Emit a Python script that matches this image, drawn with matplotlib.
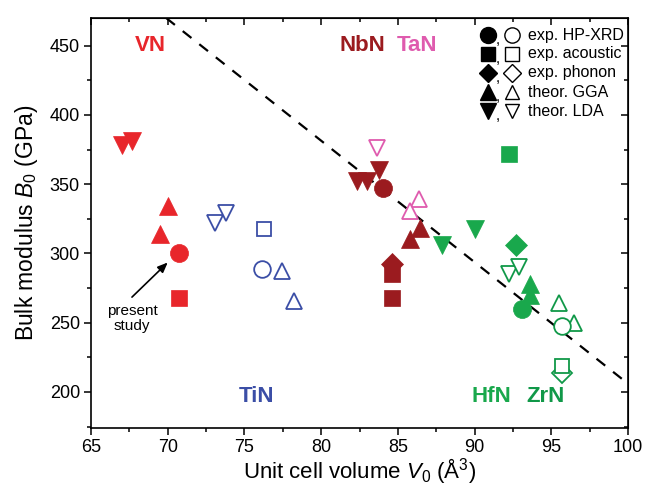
import matplotlib
matplotlib.use("Agg")
import matplotlib.pyplot as plt
from matplotlib.ticker import MultipleLocator

plt.rcParams['font.family'] = ['Liberation Sans', 'DejaVu Sans']
plt.rcParams['mathtext.fontset'] = 'custom'
plt.rcParams['mathtext.rm'] = 'Liberation Sans'
plt.rcParams['mathtext.it'] = 'Liberation Sans:italic'

# ---------------- data ----------------
vn_V = [67.02, 67.67, 70.02, 69.5, 70.74, 70.74]
vn_B = [378, 381.5, 334, 314, 300.5, 268]
vn_m = ['lda', 'lda', 'gga', 'gga', 'xrd', 'ac']

tin_V = [73.08, 73.8, 76.28, 76.15, 77.45, 78.23]
tin_B = [322, 329, 318, 289, 287.5, 266]
tin_m = ['lda', 'lda', 'ac', 'xrd', 'gga', 'gga']

nbn_V = [82.34, 83.0, 83.77, 84.04, 86.45, 85.8, 84.62, 84.62, 84.62]
nbn_B = [352.5, 352.5, 360, 347.5, 318.6, 310.7, 268, 285, 292.6]
nbn_m = ['lda', 'lda', 'lda', 'xrd', 'gga', 'gga', 'ac', 'ac', 'ph']

tan_V = [83.64, 86.38, 85.8]
tan_B = [376, 339.5, 331]
tan_m = ['lda', 'gga', 'gga']

hfn_V = [92.25, 90.03, 87.88, 92.7, 93.6, 93.6, 93.1]
hfn_B = [372, 318, 306, 306, 278, 270, 260]
hfn_m = ['ac', 'lda', 'lda', 'ph', 'gga', 'gga', 'xrd']

zrn_V = [92.25, 92.9, 95.5, 96.5, 95.7, 95.7, 95.7]
zrn_B = [285, 290, 264, 250, 248, 214, 219]
zrn_m = ['lda', 'lda', 'gga', 'gga', 'xrd', 'ph', 'ac']

trend_V = [69.9, 100.0]
trend_B = [470, 206]

legend_keys = ['xrd', 'ac', 'ph', 'gga', 'lda']
legend_labels = ['exp. HP-XRD', 'exp. acoustic', 'exp. phonon', 'theor. GGA', 'theor. LDA']

# ---------------- style ----------------
markers = {'xrd': 'o', 'ac': 's', 'ph': 'D', 'gga': '^', 'lda': 'v'}
msizes = {'xrd': 13, 'ac': 11.5, 'ph': 11, 'gga': 12.5, 'lda': 12.5}

c_vn = '#e8262b'
c_tin = '#3b4ea6'
c_nbn = '#9b1b1f'
c_tan = '#df5bae'
c_hfn = '#19a84c'
c_zrn = '#109848'

fig = plt.figure(figsize=(6.46, 4.86), dpi=100)
ax = fig.add_axes([91/646, 1 - 428/486, 537/646, 410/486])

ax.plot(trend_V, trend_B, color='black', lw=1.6, dashes=(5, 4.5), zorder=1)


def draw(Vs, Bs, ms_, color, filled, z=3):
    for v, b, m in zip(Vs, Bs, ms_):
        if filled:
            ax.plot([v], [b], marker=markers[m], ms=msizes[m], mfc=color,
                    mec=color, mew=0.5, ls='none', zorder=z)
        else:
            ax.plot([v], [b], marker=markers[m], ms=msizes[m] - 1, mfc='white',
                    mec=color, mew=1.3, ls='none', zorder=z)


draw(vn_V, vn_B, vn_m, c_vn, True)
draw(tin_V, tin_B, tin_m, c_tin, False)
draw(nbn_V, nbn_B, nbn_m, c_nbn, True)
draw(tan_V, tan_B, tan_m, c_tan, False)
draw(hfn_V, hfn_B, hfn_m, c_hfn, True)
draw(zrn_V, zrn_B, zrn_m, c_zrn, False)

ax.set_xlim(65, 100)
ax.set_ylim(174, 470)
ax.xaxis.set_major_locator(MultipleLocator(5))
ax.xaxis.set_minor_locator(MultipleLocator(2.5))
ax.yaxis.set_major_locator(MultipleLocator(50))
ax.yaxis.set_minor_locator(MultipleLocator(25))
ax.tick_params(axis='both', which='major', direction='out', length=5, width=1.1,
               labelsize=13, pad=3)
ax.tick_params(axis='both', which='minor', direction='out', length=3, width=1.1)
ax.tick_params(axis='both', which='both', top=False, right=False)
ax.set_yticks([200, 250, 300, 350, 400, 450])
for s in ax.spines.values():
    s.set_linewidth(1.2)

# inward ticks on top and right
axt = ax.secondary_xaxis('top')
axt.xaxis.set_major_locator(MultipleLocator(5))
axt.xaxis.set_minor_locator(MultipleLocator(2.5))
axt.tick_params(which='major', direction='in', length=5, width=1.1, labeltop=False)
axt.tick_params(which='minor', direction='in', length=3, width=1.1)
axr = ax.secondary_yaxis('right')
axr.yaxis.set_major_locator(MultipleLocator(50))
axr.yaxis.set_minor_locator(MultipleLocator(25))
axr.tick_params(which='major', direction='in', length=5, width=1.1, labelright=False)
axr.tick_params(which='minor', direction='in', length=3, width=1.1)

ax.set_xlabel(r'Unit cell volume $V_0$ (Å$^3$)', fontsize=16, labelpad=0)
ax.set_ylabel(r'Bulk modulus $B_0$ (GPa)', fontsize=16.5, labelpad=7)

# compound labels
lab_kw = dict(fontsize=16, fontweight='bold', ha='center', va='center')
ax.text(68.9, 450.5, 'VN', color=c_vn, **lab_kw)
ax.text(82.67, 450.5, 'NbN', color=c_nbn, **lab_kw)
ax.text(86.25, 450.5, 'TaN', color=c_tan, **lab_kw)
ax.text(75.8, 196.5, 'TiN', color=c_tin, **lab_kw)
ax.text(91.1, 196.5, 'HfN', color=c_hfn, **lab_kw)
ax.text(94.65, 196.5, 'ZrN', color=c_zrn, **lab_kw)

# annotation
ax.annotate('', xy=(70.0, 293.5), xytext=(67.67, 268.5),
            arrowprops=dict(arrowstyle='-|>,head_length=0.6,head_width=0.25',
                            color='black', lw=1.2, shrinkA=0, shrinkB=0))
ax.text(67.67, 253, 'present\nstudy', fontsize=11, ha='center', va='center',
        linespacing=1.15)

# legend (manual)
row_y = [0.958, 0.913, 0.866, 0.819, 0.773]
for yy, key, lab in zip(row_y, legend_keys, legend_labels):
    ms = msizes[key] - 1.5
    ax.plot([0.739], [yy], transform=ax.transAxes, marker=markers[key], ms=ms,
            mfc='black', mec='black', ls='none', clip_on=False)
    ax.text(0.753, yy - 0.012, ',', transform=ax.transAxes, fontsize=11,
            ha='left', va='center')
    ax.plot([0.784], [yy], transform=ax.transAxes, marker=markers[key], ms=ms - 0.5,
            mfc='white', mec='black', mew=1.0, ls='none', clip_on=False)
    ax.text(0.814, yy, lab, transform=ax.transAxes, fontsize=11.5,
            ha='left', va='center')

fig.savefig('out.png', dpi=100)
